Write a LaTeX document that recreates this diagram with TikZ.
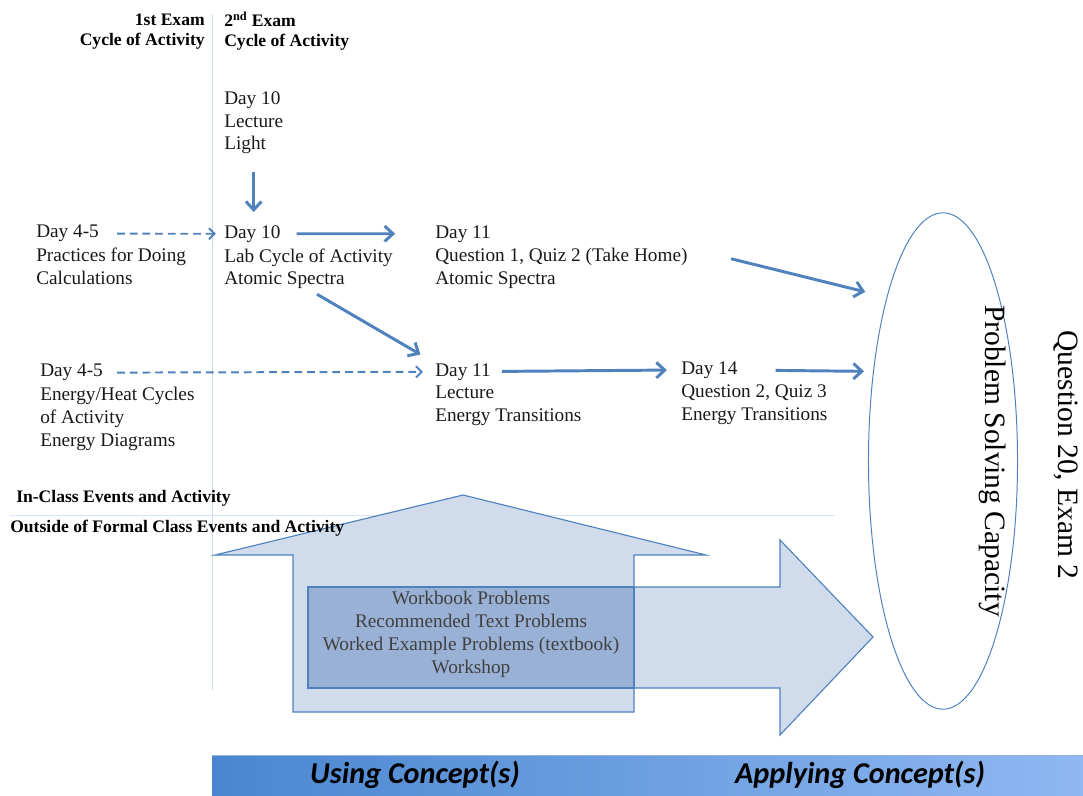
\documentclass[tikz,border=0pt]{standalone}
\usepackage{fontspec}
\setmainfont{Liberation Serif}
\newfontfamily\barfont{Carlito}
\usepackage{xcolor}
\usetikzlibrary{arrows.meta,positioning,shapes.geometric}

\definecolor{flowblue}{HTML}{4F81BD}
\definecolor{rulerblue}{HTML}{C6D9F1}
\definecolor{shapefill}{HTML}{D0DCEC}
\definecolor{overlapfill}{HTML}{98B1D4}
\definecolor{barleft}{HTML}{4A86D0}
\definecolor{barmid}{HTML}{9CC3FA}
\definecolor{barright}{HTML}{8FB8F2}

\begin{document}
\begin{tikzpicture}[
  x=0.025cm, y=-0.025cm,
  daytxt/.style={anchor=north west, inner sep=0pt, text=black!90,
                 font=\fontsize{13.7}{16.3}\selectfont},
  bodytxt/.style={daytxt, align=left},
  hdr/.style={inner sep=0pt, font=\bfseries\fontsize{12.5}{14.2}\selectfont},
  zone/.style={hdr, anchor=north west},
  bigtxt/.style={inner sep=0pt, rotate=-90, font=\fontsize{21}{25}\selectfont},
  bartxt/.style={inner sep=0pt, font=\barfont\bfseries\itshape\fontsize{21.5}{26}\selectfont},
  flow/.style={draw=flowblue, line width=2.1pt, -{Straight Barb[length=6pt,width=11pt]}},
  feed/.style={draw=flowblue, line width=1.4pt, dash pattern=on 5.5pt off 3.5pt,
               -{Straight Barb[length=4pt,width=8pt]}},
  block/.style={fill=shapefill, draw=flowblue, line width=0.8pt}
]
  \useasboundingbox (0,0) rectangle (1083,795);

  % column rule and zone separator
  \draw[rulerblue, line width=0.6pt] (212,15) -- (212,690);
  \draw[rulerblue!70, line width=0.5pt] (10,515) -- (835,515);

  % headers
  \node[hdr, anchor=north east, align=right] (exam1) at (205,14)
    {1st Exam\\Cycle of Activity};
  \node[hdr, anchor=north west, align=left] (exam2) at (224,12)
    {2\textsuperscript{nd} Exam\\Cycle of Activity};

  % in-class events
  \node[bodytxt] (light) at (224,91) {Day 10\\Lecture\\Light};

  \node[daytxt] (prac) at (36,225) {Day 4-5};
  \node[bodytxt, below=4pt of prac.south west, anchor=north west] (practxt)
    {Practices for Doing\\Calculations};
  \node[daytxt] (lab) at (224,225) {Day 10};
  \node[bodytxt, below=4pt of lab.south west, anchor=north west] (labtxt)
    {Lab Cycle of Activity\\Atomic Spectra};
  \node[daytxt] (quiz1) at (435,225) {Day 11};
  \node[bodytxt, below=4pt of quiz1.south west, anchor=north west] (quiz1txt)
    {Question 1, Quiz 2 (Take Home)\\Atomic Spectra};

  \node[daytxt] (heat) at (40,364) {Day 4-5};
  \node[bodytxt, below=4pt of heat.south west, anchor=north west] (heattxt)
    {Energy/Heat Cycles\\of Activity\\Energy Diagrams};
  \node[daytxt] (lec) at (435,363) {Day 11};
  \node[bodytxt, below=4pt of lec.south west, anchor=north west] (lectxt)
    {Lecture\\Energy Transitions};
  \node[daytxt] (quiz2) at (681,361) {Day 14};
  \node[bodytxt, below=4pt of quiz2.south west, anchor=north west] (quiz2txt)
    {Question 2, Quiz 3\\Energy Transitions};

  % outside-of-class arrows
  \draw[block] (463,495) -- (706,555) -- (634,555) -- (634,712) -- (293,712)
    -- (293,555) -- (215,555) -- cycle;
  \draw[block] (308,587) -- (780,587) -- (780,540) -- (873,637) -- (780,735)
    -- (780,688) -- (308,688) -- cycle;
  \draw[block, fill=overlapfill] (308,587) rectangle (634,688);
  \node[bodytxt, anchor=center, align=center, text=black!75] (problems) at (471,634)
    {Workbook Problems\\Recommended Text Problems\\Worked Example Problems (textbook)\\Workshop};

  \node[zone] (inclass) at (16,490) {In-Class Events and Activity};
  \node[zone] (outside) at (10,520) {Outside of Formal Class Events and Activity};

  % outcome
  \node[ellipse, draw=flowblue, line width=0.7pt, inner sep=0pt,
        minimum width=106pt, minimum height=353pt] (capacity) at (943,461) {};
  \node[bigtxt] (capacitytxt) at (993,461) {Problem Solving Capacity};
  \node[bigtxt] (exam) at (1066,455) {Question 20, Exam 2};

  % connectors
  \draw[flow, shorten <=12.8pt, shorten >=9.2pt] (light.south) -- (light.south |- lab.north);
  \draw[feed, shorten <=12.8pt, shorten >=5.7pt] (prac) -- (lab);
  \draw[flow, shorten <=11.3pt, shorten >=28.3pt] (lab) -- (quiz1);
  \draw[flow, shorten <=7pt, shorten >=12pt] (labtxt.south) -- (lec.north west);
  \draw[flow, shorten <=31.7pt, shorten >=15.6pt] (quiz1txt.north east) -- (capacity.109);
  \draw[feed, shorten <=10pt, shorten >=8.5pt] (heat) -- (lec);
  \draw[flow, shorten <=7.8pt, shorten >=10pt] (lec) -- (quiz2);
  \draw[flow, shorten <=27pt, shorten >=6.4pt] (quiz2) -- (capacity.128);

  % concept bar
  \shade[left color=barleft, middle color=barmid, right color=barright]
    (212,755) rectangle (1083,795);
  \draw[flowblue!60, line width=0.5pt] (212,755) -- (1083,755);
  \node[bartxt] (using) at (415,775) {Using Concept(s)};
  \node[bartxt] (applying) at (860,775) {Applying Concept(s)};
\end{tikzpicture}
\end{document}
